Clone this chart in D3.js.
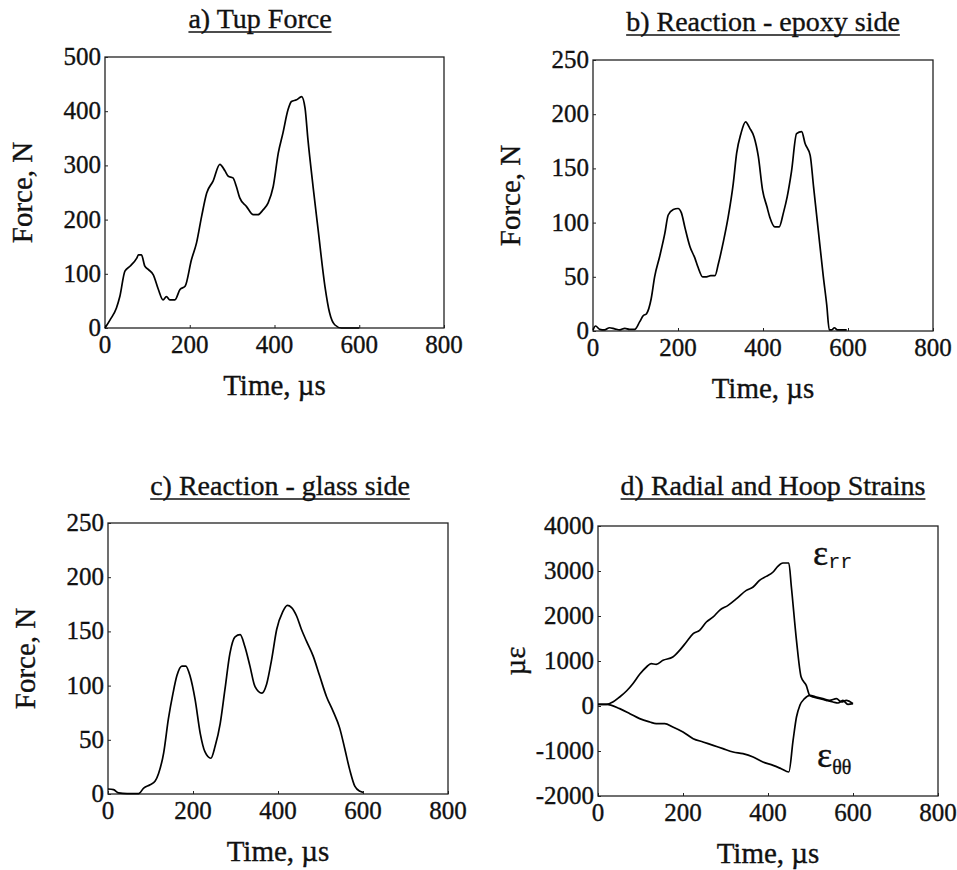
<!DOCTYPE html>
<html>
<head>
<meta charset="utf-8">
<script src="https://cdn.jsdelivr.net/npm/d3@7"></script>
<style>
  body { margin: 0; background: #fff; }
  text { font-family: "Liberation Serif", "Times New Roman", serif; fill: #111; stroke: #111; stroke-width: 0.35px; }
</style>
</head>
<body>
<div id="chart"></div>
<script>
// ---------------------------------------------
// data
// ---------------------------------------------
const tupTime  = [0, 12, 27, 35, 47, 59, 75, 79, 86, 94, 102, 114, 126, 137, 145, 153, 165, 177, 189, 204, 216, 228, 240, 255, 271, 283, 291, 302, 310, 318, 334, 350, 361, 373, 385, 397, 409, 420, 432, 440, 452, 464, 472, 479, 491, 503, 519, 530, 542, 558, 600]
const tupForce = [0, 15, 37, 58, 105, 114, 129, 135, 135, 114, 108, 98, 71, 52, 58, 52, 52, 71, 77, 126, 157, 206, 249, 271, 302, 290, 280, 277, 261, 240, 224, 209, 209, 218, 231, 261, 323, 360, 403, 418, 421, 427, 406, 347, 261, 181, 77, 28, 6, 0, 0]

const epoxyTime  = [0, 6, 16, 27, 39, 51, 63, 75, 86, 98, 110, 118, 126, 137, 145, 157, 169, 177, 189, 200, 208, 216, 228, 240, 247, 258, 267, 277, 287, 295, 306, 318, 330, 338, 348, 359, 369, 379, 389, 399, 409, 416, 428, 438, 448, 457, 467, 479, 491, 499, 511, 519, 530, 542, 550, 556, 562, 568, 575, 585, 597]
const epoxyForce = [1, 4.6, 1.5, 1, 3, 2, 1, 2.5, 1.5, 1.5, 8.6, 14, 16, 30, 50, 69, 90, 107, 112, 113, 109, 96, 78, 67, 59, 50, 50, 51, 51, 62, 81, 105, 136, 164, 182, 193, 187, 179, 161, 130, 115, 105, 96, 96, 109, 124, 147, 182, 184, 173, 162, 133, 93, 50, 24, 1, 1, 3, 1, 1, 1]

const glassTime  = [0, 13, 25, 45, 72, 84, 99, 111, 119, 131, 142, 153, 162, 174, 183, 193, 205, 217, 228, 242, 252, 264, 275, 287, 299, 311, 322, 334, 346, 362, 373, 385, 397, 411, 422, 432, 444, 455, 467, 483, 498, 514, 530, 545, 557, 569, 581, 593, 600]
const glassForce = [4.6, 4, 1, 0.3, 0.3, 5.5, 8.6, 12, 19, 38, 69, 93, 109, 118, 118, 109, 87, 56, 39, 33, 44, 65, 96, 130, 145, 147, 136, 118, 99, 93, 101, 124, 152, 168, 174, 172, 164, 152, 141, 127, 109, 90, 76, 61, 42, 22, 7, 2.5, 1.5]

const radialTime   = [0, 20, 35, 51, 67, 82, 98, 114, 125, 137, 153, 176, 192, 208, 224, 239, 255, 271, 286, 306, 326, 349, 365, 380, 396, 412, 423, 435, 449, 455, 467, 478, 490, 498, 506, 522, 537, 553, 565, 576, 588, 600]
const radialStrain = [37, 37, 89, 200, 333, 496, 704, 867, 941, 926, 1015, 1089, 1237, 1422, 1607, 1681, 1867, 1978, 2126, 2237, 2385, 2570, 2644, 2793, 2881, 2978, 3104, 3178, 3178, 2644, 1459, 644, 459, 237, 200, 163, 126, 89, 67, 126, 37, 52]

const hoopTime   = [0, 20, 51, 75, 98, 122, 137, 157, 176, 200, 224, 247, 271, 294, 318, 341, 365, 388, 412, 431, 449, 459, 467, 475, 486, 498, 514, 529, 545, 561, 573, 584, 600]
const hoopStrain = [37, 37, -59, -170, -281, -356, -393, -393, -467, -578, -726, -800, -874, -948, -1022, -1059, -1133, -1244, -1319, -1393, -1467, -763, -244, 15, 163, 237, 200, 163, 126, 163, 89, 126, 52]

const timeTicks  = [0, 200, 400, 600, 800]
const forceTicks = [0, 100, 200, 300, 400, 500]
const reactTicks = [0, 50, 100, 150, 200, 250]
const strainTicks = [-2000, -1000, 0, 1000, 2000, 3000, 4000]

const svg = d3.select("#chart")
  .append("svg")
  .attr("width", 957)
  .attr("height", 870)

// one panel = frame + ticks + labels + curves
function drawPanel(p) {
  const x = d3.scaleLinear().domain([0, 800]).range([p.left, p.left + p.w])
  const y = d3.scaleLinear().domain(p.yDomain).range([p.top + p.h, p.top])

  const g = svg.append("g")

  g.append("rect")
    .attr("x", p.left).attr("y", p.top)
    .attr("width", p.w).attr("height", p.h)
    .attr("fill", "none")
    .attr("stroke", "#222")
    .attr("stroke-width", 1.3)

  // small inward ticks
  g.append("g")
    .attr("transform", `translate(0,${p.top + p.h})`)
    .call(d3.axisBottom(x).tickValues(timeTicks).tickSize(-3).tickFormat(""))
    .call(a => a.select(".domain").remove())
  g.append("g")
    .attr("transform", `translate(${p.left},0)`)
    .call(d3.axisLeft(y).tickValues(p.yTicks).tickSize(-3).tickFormat(""))
    .call(a => a.select(".domain").remove())
  g.selectAll(".tick line").attr("stroke", "#222")

  g.selectAll("text.xt")
    .data(timeTicks)
    .join("text")
    .attr("class", "xt")
    .attr("x", d => x(d))
    .attr("y", p.top + p.h + 25)
    .attr("text-anchor", "middle")
    .style("font-size", "25px")
    .text(d => d)

  g.selectAll("text.yt")
    .data(p.yTicks)
    .join("text")
    .attr("class", "yt")
    .attr("x", p.left - 4)
    .attr("y", d => y(d) + 8)
    .attr("text-anchor", "end")
    .style("font-size", "25px")
    .text(d => d)

  g.append("text")
    .attr("x", p.left + p.w / 2)
    .attr("y", p.top + p.h + 67)
    .attr("text-anchor", "middle")
    .style("font-size", "29px")
    .text("Time, \u00b5s")

  g.append("text")
    .attr("transform", `translate(${p.left - 73},${p.top + p.h / 2}) rotate(-90)`)
    .attr("text-anchor", "middle")
    .style("font-size", "29px")
    .text(p.yLabel)

  const title = g.append("text")
    .attr("x", p.titleX)
    .attr("y", p.titleY)
    .attr("text-anchor", "middle")
    .style("font-size", "28px")
    .text(p.title)
  const tw = title.node().getComputedTextLength()
  g.append("line")
    .attr("x1", p.titleX - tw / 2).attr("x2", p.titleX + tw / 2)
    .attr("y1", p.titleY + 4).attr("y2", p.titleY + 4)
    .attr("stroke", "#111")
    .attr("stroke-width", 1.3)

  const line = d3.line().x(d => x(d[0])).y(d => y(d[1])).curve(d3.curveMonotoneX)
  p.series.forEach(s => {
    g.append("path")
      .datum(d3.zip(s[0], s[1]))
      .attr("d", line)
      .attr("fill", "none")
      .attr("stroke", "#000")
      .attr("stroke-width", 1.7)
  })
  return { x, y, g }
}

drawPanel({
  left: 105, top: 57, w: 339, h: 271,
  yDomain: [0, 500], yTicks: forceTicks, yLabel: "Force, N",
  title: "a) Tup Force", titleX: 260, titleY: 28,
  series: [[tupTime, tupForce]]
})

drawPanel({
  left: 593, top: 60, w: 340, h: 271,
  yDomain: [0, 250], yTicks: reactTicks, yLabel: "Force, N",
  title: "b) Reaction - epoxy side", titleX: 763, titleY: 31,
  series: [[epoxyTime, epoxyForce]]
})

drawPanel({
  left: 108, top: 523, w: 340, h: 271,
  yDomain: [0, 250], yTicks: reactTicks, yLabel: "Force, N",
  title: "c) Reaction - glass side", titleX: 280, titleY: 495,
  series: [[glassTime, glassForce]]
})

const d = drawPanel({
  left: 598, top: 526, w: 340, h: 270,
  yDomain: [-2000, 4000], yTicks: strainTicks, yLabel: "\u00b5\u03b5",
  title: "d) Radial and Hoop Strains", titleX: 773, titleY: 495,
  series: [[radialTime, radialStrain], [hoopTime, hoopStrain]]
})

// strain labels
const rr = d.g.append("text").attr("x", 813).attr("y", 565)
rr.append("tspan").style("font-size", "36px").text("\u03b5")
rr.append("tspan").style("font-size", "20px").style("font-family", "Liberation Mono, monospace").style("stroke-width", "0.1px").attr("dy", 3).text("rr")

const tt = d.g.append("text").attr("x", 817).attr("y", 767)
tt.append("tspan").style("font-size", "36px").text("\u03b5")
tt.append("tspan").style("font-size", "20px").attr("dy", 7).text("\u03b8\u03b8")
</script>
</body>
</html>
